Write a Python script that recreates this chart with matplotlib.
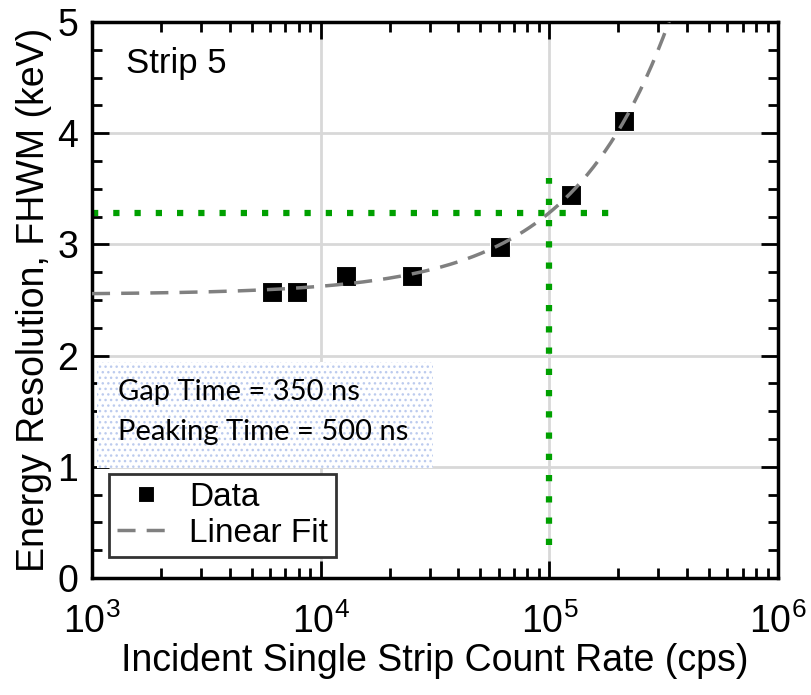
import numpy as np
import matplotlib.pyplot as plt
from matplotlib.patches import Rectangle
from matplotlib.ticker import MultipleLocator, LogLocator, NullFormatter

# data
rate = [6100, 7900, 12900, 25100, 60800, 124000, 212000]
fwhm = [2.57, 2.57, 2.72, 2.72, 2.98, 3.44, 4.11]
fit_a = 2.55
fit_b = 7.35e-6
rate_mark = 1e5
fwhm_mark = fit_a + fit_b * rate_mark

plt.rcParams['font.family'] = ['Liberation Sans', 'DejaVu Sans']
plt.rcParams['hatch.linewidth'] = 1.0

fig = plt.figure(figsize=(8.11, 6.95), dpi=100)
ax = fig.add_axes([92/811, 1-578/695, 686/811, 556/695])

ax.grid(True, which='major', color='#d8d8d8', lw=2, zorder=0)
ax.set_axisbelow(True)

# text box with dotted background
ax.add_patch(Rectangle((0.007, 0.198), 0.49, 0.19, transform=ax.transAxes,
                       facecolor='white', edgecolor='#bccbee', lw=0, hatch='...', zorder=1))
ax.text(0.038, 0.335, 'Gap Time = 350 ns', transform=ax.transAxes, fontsize=21,
        family=['Lato', 'DejaVu Sans'], va='center', zorder=2)
ax.text(0.038, 0.263, 'Peaking Time = 500 ns', transform=ax.transAxes, fontsize=21,
        family=['Lato', 'DejaVu Sans'], va='center', zorder=2)

xf = np.logspace(3, np.log10(3.4e5), 300)
ax.plot(xf, fit_a + fit_b * xf, ls=(0, (5.2, 3.2)), color='#808080', lw=2.5, zorder=4, label='Linear Fit')
ax.plot(rate, fwhm, 's', color='black', ms=14, mec='white', mew=0.8, zorder=3, label='Data')

ax.plot([1e3, 1.88e5], [fwhm_mark, fwhm_mark], ls=(0, (1, 2.4)), color='#00a000', lw=4.5, zorder=2)
ax.plot([rate_mark, rate_mark], [0.3, 3.6], ls=(0, (1, 2.4)), color='#00a000', lw=4.5, zorder=2)

ax.text(0.05, 0.925, 'Strip 5', transform=ax.transAxes, fontsize=25, va='center')

ax.set_xscale('log')
ax.set_xlim(1e3, 1e6)
ax.set_ylim(0, 5)
ax.xaxis.set_major_locator(LogLocator(base=10, numticks=10))
ax.xaxis.set_minor_locator(LogLocator(base=10, subs=np.arange(2, 10), numticks=20))
ax.xaxis.set_minor_formatter(NullFormatter())
ax.yaxis.set_major_locator(MultipleLocator(1))
ax.yaxis.set_minor_locator(MultipleLocator(0.25))

for s in ax.spines.values():
    s.set_linewidth(2.5)
ax.tick_params(which='both', direction='in', top=True, right=True, width=2)
ax.tick_params(which='major', length=12, labelsize=27)
ax.tick_params(axis='x', which='major', pad=18)
ax.tick_params(axis='y', which='major', pad=10)
ax.tick_params(which='minor', length=7)

ax.set_xlabel('Incident Single Strip Count Rate (cps)', fontsize=27, labelpad=2)
ax.set_ylabel('Energy Resolution, FHWM (keV)', fontsize=27, labelpad=4)

handles, labels = ax.get_legend_handles_labels()
leg = ax.legend(handles[::-1], labels[::-1], loc='lower left', bbox_to_anchor=(0.015, 0.025),
                fontsize=24, fancybox=False, edgecolor='#333333', framealpha=1,
                handlelength=1.7, borderpad=0.25, labelspacing=0.15, handletextpad=0.45,
                borderaxespad=0.2, markerscale=0.85)
leg.get_frame().set_linewidth(2)

fig.savefig('out.png', dpi=100)
